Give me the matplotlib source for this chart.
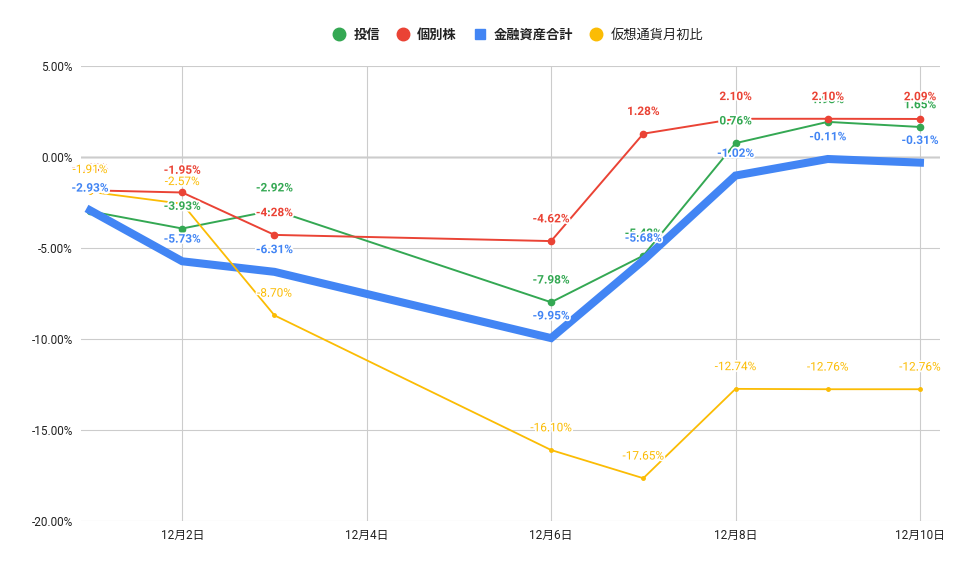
import matplotlib
matplotlib.use("Agg")
import matplotlib.pyplot as plt
import matplotlib.patheffects as pe
from matplotlib.lines import Line2D

plt.rcParams['font.family'] = ['Roboto', 'Noto Sans CJK JP', 'DejaVu Sans']

# ---- データ（12月の日付と各系列の前月末比 %） ----
days = [1, 2, 3, 6, 7, 8, 9, 10]
toushin   = [-2.98, -3.93, -2.92, -7.98, -5.42, 0.76, 1.93, 1.65]     # 投信
kobetsu   = [-1.83, -1.95, -4.28, -4.62, 1.28, 2.10, 2.10, 2.09]      # 個別株
kinyu     = [-2.93, -5.73, -6.31, -9.95, -5.68, -1.02, -0.11, -0.31]  # 金融資産合計
kasou     = [-1.91, -2.57, -8.70, -16.10, -17.65, -12.74, -12.76, -12.76]  # 仮想通貨月初比

tick_days = [2, 4, 6, 8, 10]
tick_labels = [f"12月{d}日" for d in tick_days]
yticks = [5, 0, -5, -10, -15, -20]

GREEN, RED, BLUE, YELLOW = '#34A853', '#EA4335', '#4285F4', '#FBBC04'

fig = plt.figure(figsize=(9.6, 5.69), dpi=100)
ax = fig.add_axes([81/960, 1 - 521/569, (940 - 81)/960, (521 - 66)/569])

# 線
ax.plot(days, toushin, color=GREEN, lw=1.4, marker='o', ms=4.5, zorder=3)
ax.plot(days, kobetsu, color=RED, lw=1.4, marker='o', ms=4.5, zorder=3)
ax.plot(days, kinyu, color=BLUE, lw=5.8, solid_joinstyle='miter', zorder=4)
ax.plot(days, kasou, color=YELLOW, lw=1.3, marker='o', ms=2.5, zorder=5)

# データラベル（白縁つき）
halo = [pe.withStroke(linewidth=2.5, foreground='white')]
for vals, col, bold in [(toushin, GREEN, True), (kobetsu, RED, True),
                        (kinyu, BLUE, True), (kasou, YELLOW, False)]:
    for d, v in zip(days, vals):
        ax.annotate(f"{v:.2f}%", (d, v), xytext=(0, 16), textcoords='offset points',
                    ha='center', va='center', fontsize=8.5, color=col,
                    fontweight='bold' if bold else 'normal',
                    path_effects=halo, zorder=10)

# 軸
ax.set_xlim(1 - 9/92, 10 + 20/92)
ax.set_ylim(-20, 5)
ax.set_xticks(tick_days)
ax.set_xticklabels(tick_labels)
ax.set_yticks(yticks)
ax.set_yticklabels([f"{y:.2f}%" for y in yticks])
ax.tick_params(length=0, labelsize=8.5, colors='#222222', pad=6)
ax.grid(True, color='#cccccc', lw=0.8, zorder=0)
ax.axhline(0, color='#333333', lw=0.9, zorder=1)
for s in ax.spines.values():
    s.set_visible(False)

# 凡例
handles = [
    Line2D([], [], ls='', marker='o', ms=9, color=GREEN),
    Line2D([], [], ls='', marker='o', ms=9, color=RED),
    Line2D([], [], ls='', marker='s', ms=6.5, color=BLUE),
    Line2D([], [], ls='', marker='o', ms=9, color=YELLOW),
]
leg = fig.legend(handles, ['投信', '個別株', '金融資産合計', '仮想通貨月初比'],
                 loc='center', bbox_to_anchor=(518/960, 1 - 35/569), ncol=4, frameon=False,
                 prop={'family': ['Noto Sans CJK JP'], 'size': 9.5},
                 handlelength=1.0, handletextpad=0.6, columnspacing=1.2)
for t, b in zip(leg.get_texts(), [True, True, True, False]):
    t.set_color('#222222')
    if b:
        t.set_fontweight('bold')

fig.savefig('out.png', dpi=100)
